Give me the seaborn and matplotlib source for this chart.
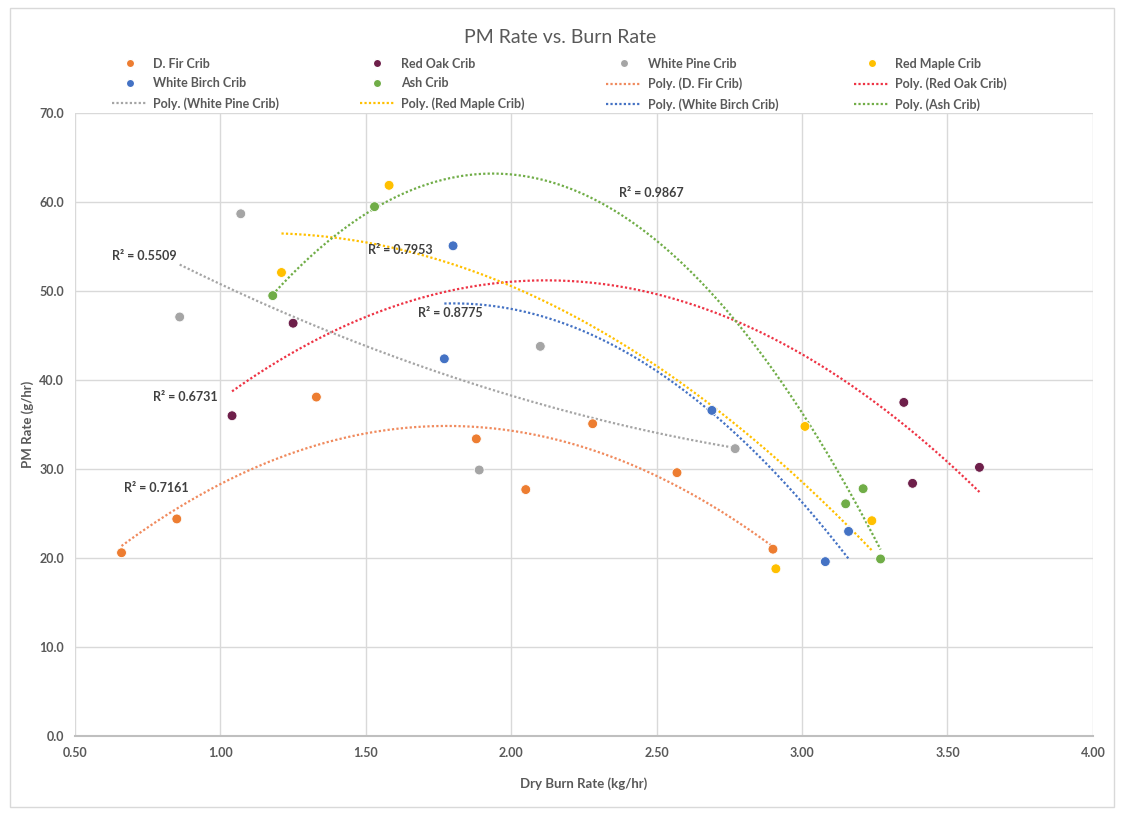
import numpy as np
import pandas as pd
import matplotlib
matplotlib.use("Agg")
import matplotlib.pyplot as plt
from matplotlib.lines import Line2D
from matplotlib.patches import Rectangle
import seaborn as sns

# ---- data ----
series_names = ["D. Fir Crib", "Red Oak Crib", "White Pine Crib",
                "Red Maple Crib", "White Birch Crib", "Ash Crib"]

dfir_x = [0.66, 0.85, 1.33, 1.88, 2.05, 2.28, 2.57, 2.90]
dfir_y = [20.6, 24.4, 38.1, 33.4, 27.7, 35.1, 29.6, 21.0]
redoak_x = [1.04, 1.25, 3.35, 3.38, 3.61]
redoak_y = [36.0, 46.4, 37.5, 28.4, 30.2]
whitepine_x = [0.86, 1.07, 1.89, 2.10, 2.77]
whitepine_y = [47.1, 58.7, 29.9, 43.8, 32.3]
redmaple_x = [1.21, 1.58, 2.91, 3.01, 3.24]
redmaple_y = [52.1, 61.9, 18.8, 34.8, 24.2]
whitebirch_x = [1.77, 1.80, 2.69, 3.08, 3.16]
whitebirch_y = [42.4, 55.1, 36.6, 19.6, 23.0]
ash_x = [1.18, 1.53, 3.15, 3.21, 3.27]
ash_y = [49.5, 59.5, 26.1, 27.8, 19.9]

r2_labels = ["R² = 0.7161", "R² = 0.6731", "R² = 0.5509",
             "R² = 0.7953", "R² = 0.8775", "R² = 0.9867"]

x_ticks = [0.50, 1.00, 1.50, 2.00, 2.50, 3.00, 3.50, 4.00]
y_ticks = [0, 10, 20, 30, 40, 50, 60, 70]

xs = [dfir_x, redoak_x, whitepine_x, redmaple_x, whitebirch_x, ash_x]
ys = [dfir_y, redoak_y, whitepine_y, redmaple_y, whitebirch_y, ash_y]

# ---- style ----
marker_colors = ["#ED7D31", "#6E1F4A", "#A5A5A5", "#FFC000", "#4472C4", "#70AD47"]
trend_colors = ["#F08A5D", "#EE3344", "#A5A5A5", "#FFC000", "#4472C4", "#70AD47"]
r2_pos = [(0.78, 27.9), (0.88, 38.1), (0.74, 53.9), (1.62, 54.6), (1.79, 47.5), (2.48, 61.0)]

sns.set_theme(style="white")
plt.rcParams["font.family"] = ["Lato", "DejaVu Sans"]
text_color = "#595959"

fig = plt.figure(figsize=(11.21, 8.13), dpi=100)
fig.patches.append(Rectangle((0.009, 0.007), 0.985, 0.983, transform=fig.transFigure,
                             fill=False, edgecolor="#D9D9D9", linewidth=1.0))
ax = fig.add_axes([0.0669, 0.0947, 0.908, 0.766])

rows = []
for name, x, y in zip(series_names, xs, ys):
    for a, b in zip(x, y):
        rows.append({"series": name, "x": a, "y": b})
df = pd.DataFrame(rows)

# trend lines (2nd order polynomial fits)
for i, (x, y) in enumerate(zip(xs, ys)):
    coef = np.polyfit(x, y, 2)
    xx = np.linspace(min(x), max(x), 200)
    yy = np.polyval(coef, xx)
    ax.plot(xx, yy, color=trend_colors[i], linestyle=(0, (1, 1)), linewidth=1.6, zorder=2)

sns.scatterplot(data=df, x="x", y="y", hue="series", hue_order=series_names,
                palette=marker_colors, s=50, edgecolor="white", linewidth=0.6,
                legend=False, ax=ax, zorder=3)

for lab, (px, py) in zip(r2_labels, r2_pos):
    ax.text(px, py, lab, ha="center", va="center", fontsize=9, color="#404040",
            fontweight="bold")

ax.set_xlim(0.5, 4.0)
ax.set_ylim(0, 70)
ax.set_xticks(x_ticks)
ax.set_yticks(y_ticks)
ax.set_xticklabels([f"{v:.2f}" for v in x_ticks], fontsize=9, color=text_color, fontweight="bold")
ax.set_yticklabels([f"{v:.1f}" for v in y_ticks], fontsize=9, color=text_color, fontweight="bold")
ax.tick_params(axis="both", length=0, pad=8)
ax.grid(True, color="#D9D9D9", linewidth=1.0)
for s in ["top", "right", "left"]:
    ax.spines[s].set_visible(False)
ax.spines["bottom"].set_color("#BFBFBF")
ax.spines["bottom"].set_linewidth(1.5)
ax.set_xlabel("Dry Burn Rate (kg/hr)", fontsize=9.5, color=text_color, fontweight="bold")
ax.set_ylabel("PM Rate (g/hr)", fontsize=9.5, color=text_color, fontweight="bold")
ax.xaxis.set_label_coords(0.5, -0.066)
ax.yaxis.set_label_coords(-0.04, 0.5)

fig.text(0.5, 0.954, "PM Rate vs. Burn Rate", ha="center", va="center",
         fontsize=14, color=text_color)

# legend: 4 columns x 3 rows, row-major order
handles = []
labels = []
for i, n in enumerate(series_names):
    handles.append(Line2D([], [], marker="o", linestyle="none", markersize=6,
                          markerfacecolor=marker_colors[i], markeredgecolor="white"))
    labels.append(n)
for i, n in enumerate(series_names):
    handles.append(Line2D([], [], color=trend_colors[i], linestyle=(0, (1, 1)), linewidth=1.6))
    labels.append(f"Poly. ({n})")
ncol, nrow = 4, 3
col_x = [0.100, 0.321, 0.541, 0.762]
for c in range(ncol):
    idx = [r * ncol + c for r in range(nrow)]
    leg = fig.legend([handles[k] for k in idx], [labels[k] for k in idx],
                     loc="upper left", bbox_to_anchor=(col_x[c], 0.929),
                     frameon=False, handlelength=2.8, handletextpad=0.5,
                     labelspacing=0.62, borderaxespad=0, borderpad=0,
                     prop={"weight": "bold", "size": 9})
    for t in leg.get_texts():
        t.set_color(text_color)

fig.savefig("out.png", dpi=100)
